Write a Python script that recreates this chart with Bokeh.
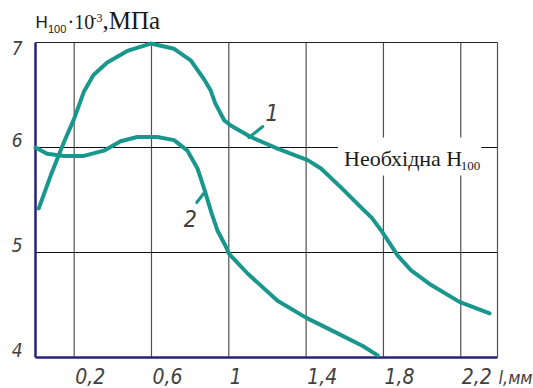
from bokeh.plotting import figure
from bokeh.models import Range1d
from bokeh.core.properties import value
from bokeh.embed import file_html
from bokeh.resources import INLINE

# ---- data ----
curve1_x = [0.017, 0.078, 0.147, 0.199, 0.25, 0.30, 0.371, 0.475, 0.596, 0.717, 0.803,
            0.872, 0.907, 0.93, 0.976, 1.01, 1.114, 1.252, 1.408, 1.477, 1.58, 1.684,
            1.74, 1.796, 1.874, 1.943, 2.047, 2.193, 2.349]
curve1_y = [5.42, 5.73, 6.05, 6.27, 6.53, 6.69, 6.81, 6.92, 6.99, 6.94, 6.83,
            6.65, 6.54, 6.42, 6.26, 6.21, 6.10, 5.99, 5.88, 5.80, 5.62, 5.43,
            5.33, 5.19, 4.97, 4.83, 4.69, 4.53, 4.42]

curve2_x = [0.0, 0.06, 0.147, 0.25, 0.354, 0.44, 0.527, 0.63, 0.717, 0.786, 0.838,
            0.872, 0.91, 0.941, 0.984, 1.0, 1.097, 1.252, 1.399, 1.563, 1.693, 1.77]
curve2_y = [6.0, 5.94, 5.92, 5.92, 5.97, 6.06, 6.10, 6.10, 6.07, 5.97, 5.80,
            5.61, 5.38, 5.21, 5.06, 4.99, 4.80, 4.54, 4.38, 4.23, 4.11, 4.02]

x_min, x_max = 0.0, 2.39
y_min, y_max = 4.0, 7.0
x_ticks = [0.2, 0.6, 1.0, 1.4, 1.8, 2.2]
x_tick_labels = ["0,2", "0,6", "1", "1,4", "1,8", "2,2"]
y_ticks = [4, 5, 6, 7]
y_tick_labels = ["4", "5", "6", "7"]
y_grid = [5, 6]

curve_names = ["1", "2"]
curve_label_x = [1.19, 0.767]
curve_label_y = [6.257, 5.248]
leader1_x = [1.104, 1.176]
leader1_y = [6.095, 6.20]
leader2_x = [0.834, 0.870]
leader2_y = [5.476, 5.562]

required_level = 6.0
required_text = "Необхідна H"
required_sub = "100"
x_unit = "l,мм"
title_parts = ["H", "100", "·10", "-3", ",МПа"]

# ---- layout: plot area 35..497 px wide, 42..357 px tall inside 533x388 ----
W, H = 533, 388
L, R, T, B = 35, 497, 42, 357
ux = (x_max - x_min) / (R - L)      # data units per pixel
uy = (y_max - y_min) / (B - T)


def lift(size_px):
    # baseline correction observed for the svg text renderer
    return 0.34 * size_px * uy


TEAL = "#1a978c"
NAVY = "#23237a"
GRAY = "#404040"
INK = "#1a1a1a"
NARROW = "Liberation Sans Narrow, DejaVu Sans Condensed, Liberation Sans, sans-serif"
SERIF = "Liberation Serif, Times New Roman, serif"
SANS = "Liberation Sans, Arial, sans-serif"

p = figure(width=W, height=H,
           x_range=Range1d(x_min - L * ux, x_max + (W - R) * ux),
           y_range=Range1d(y_min - (H - B) * uy, y_max + T * uy),
           output_backend="svg", toolbar_location=None, min_border=0)
p.xaxis.visible = False
p.yaxis.visible = False
p.xgrid.visible = False
p.ygrid.visible = False
p.outline_line_color = None
p.background_fill_color = "white"
p.border_fill_color = "white"

# grid
p.segment(x0=x_ticks, y0=[y_min] * len(x_ticks), x1=x_ticks, y1=[y_max] * len(x_ticks),
          line_color="#505050", line_width=1.2)
p.segment(x0=[x_min] * len(y_grid), y0=y_grid, x1=[x_max] * len(y_grid), y1=y_grid,
          line_color="#111111", line_width=1.2)
# frame: top and right
p.segment(x0=[x_min], y0=[y_max], x1=[x_max], y1=[y_max], line_color="#222222", line_width=1.2)
p.segment(x0=[x_max], y0=[y_min], x1=[x_max], y1=[y_max], line_color="#505050", line_width=1.2)

# white box behind the "required" label
p.quad(left=[1.565], right=[2.306], bottom=[required_level - 28 * uy],
       top=[required_level + 10 * uy], fill_color="white", line_color=None)

# axes lines
p.segment(x0=[x_min], y0=[y_min], x1=[x_min], y1=[y_max], line_color=NAVY, line_width=2.5)
p.segment(x0=[x_min], y0=[y_min], x1=[x_max], y1=[y_min], line_color=NAVY, line_width=2.5)

# curves
p.line(curve1_x, curve1_y, line_color=TEAL, line_width=4, line_cap="round", line_join="round")
p.line(curve2_x, curve2_y, line_color=TEAL, line_width=4, line_cap="round", line_join="round")
p.line(leader1_x, leader1_y, line_color=TEAL, line_width=3, line_cap="round")
p.line(leader2_x, leader2_y, line_color=TEAL, line_width=3, line_cap="round")

# x tick labels (left-aligned at the grid line, baseline below the axis)
p.text(x=[t + 1 * ux for t in x_ticks], y=[y_min - 26 * uy + lift(21)] * len(x_ticks),
       text=x_tick_labels,
       text_font=value(NARROW), text_font_style="italic", text_font_size="21px",
       text_color=GRAY, text_align="left", text_baseline="alphabetic")
p.text(x=[x_max + 1 * ux], y=[y_min - 26 * uy + lift(18)], text=[x_unit],
       text_font=value(NARROW), text_font_style="italic", text_font_size="18px",
       text_color=GRAY, text_align="left", text_baseline="alphabetic")

# y tick labels
y_label_pos = [v + 1 * uy + lift(19) if v < y_max else v - 12 * uy + lift(19) for v in y_ticks]
p.text(x=[x_min - 13 * ux] * len(y_ticks), y=y_label_pos, text=y_tick_labels,
       text_font=value(NARROW), text_font_style="italic", text_font_size="19px",
       text_color=GRAY, text_align="right", text_baseline="alphabetic")

# curve numbers
p.text(x=curve_label_x, y=[v + lift(23) for v in curve_label_y], text=curve_names,
       text_font=value(NARROW), text_font_style="italic", text_font_size="23px",
       text_color=GRAY, text_align="left", text_baseline="alphabetic")

# required level label
p.text(x=[1.596], y=[required_level - 18 * uy + lift(22)], text=[required_text],
       text_font=value(SERIF), text_font_size="22px", text_color=INK,
       text_align="left", text_baseline="alphabetic")
p.text(x=[2.2], y=[required_level - 23 * uy + lift(13)], text=[required_sub],
       text_font=value(SERIF), text_font_size="13px", text_color=INK,
       text_align="left", text_baseline="alphabetic")

# title  H100 · 10^-3, МПа
title_x = [0.0, 12.5 * ux, 32 * ux, 57 * ux, 67 * ux]
title_y = [y_max + 14 * uy, y_max + 10 * uy, y_max + 14 * uy, y_max + 20 * uy, y_max + 14 * uy]
title_font = [SANS, SANS, SERIF, SERIF, SERIF]
title_size = [17, 11, 20, 12, 25]
for tx, ty, tt, tf, ts in zip(title_x, title_y, title_parts, title_font, title_size):
    p.text(x=[tx], y=[ty + lift(ts)], text=[tt], text_font=value(tf), text_font_size=f"{ts}px",
           text_color=INK, text_align="left", text_baseline="alphabetic")

open("out.html", "w").write(file_html(p, INLINE))
